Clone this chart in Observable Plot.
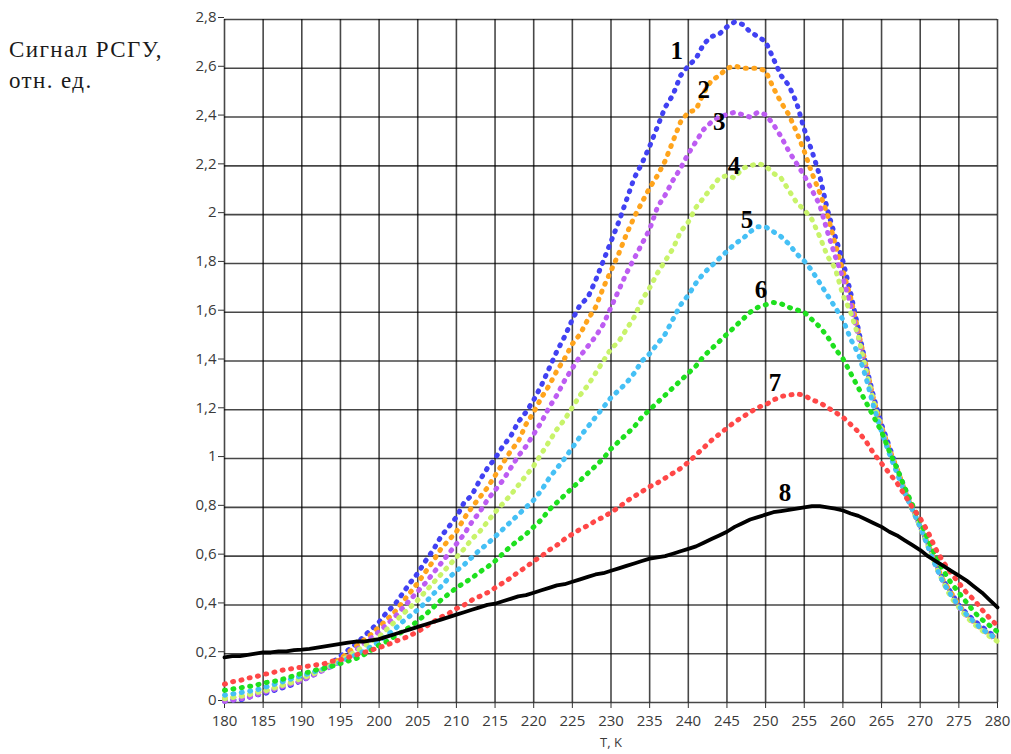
<!DOCTYPE html>
<html>
<head>
<meta charset="utf-8">
<script src="https://cdn.jsdelivr.net/npm/d3@7"></script>
<script src="https://cdn.jsdelivr.net/npm/@observablehq/plot@0.6"></script>
<style>
  html, body { margin: 0; padding: 0; background: #fff; }
  #wrap { position: relative; width: 1011px; height: 754px; }
  #ylabel { position: absolute; left: 9px; top: 34px; font-family: "Liberation Serif", "Times New Roman", serif;
            font-size: 23px; line-height: 31px; color: #1a1a1a; white-space: pre; letter-spacing: 1.4px; }
</style>
</head>
<body>
<div id="wrap"><div id="chart"></div><div id="ylabel"></div></div>
<script>
// Temperature, K
const T = [180,181,182,183,184,185,186,187,188,189,190,191,192,193,194,195,196,197,198,199,
200,201,202,203,204,205,206,207,208,209,210,211,212,213,214,215,216,217,218,219,
220,221,222,223,224,225,226,227,228,229,230,231,232,233,234,235,236,237,238,239,
240,241,242,243,244,245,246,247,248,249,250,251,252,253,254,255,256,257,258,259,
260,261,262,263,264,265,266,267,268,269,270,271,272,273,274,275,276,277,278,279,280];

const s1 = [0.005,0.01,0.01,0.02,0.03,0.035,0.045,0.055,0.065,0.075,0.09,0.105,0.12,0.14,0.165,0.19,0.215,0.24,0.27,0.30,
0.33,0.37,0.40,0.445,0.49,0.53,0.58,0.625,0.68,0.72,0.76,0.82,0.85,0.91,0.96,1.00,1.05,1.09,1.15,1.19,
1.24,1.30,1.37,1.44,1.50,1.57,1.63,1.66,1.73,1.81,1.89,1.97,2.06,2.15,2.21,2.28,2.36,2.44,2.49,2.57,
2.61,2.64,2.70,2.73,2.74,2.77,2.79,2.78,2.75,2.73,2.71,2.64,2.57,2.53,2.46,2.35,2.26,2.16,2.02,1.91,
1.81,1.68,1.53,1.38,1.25,1.14,1.05,0.96,0.88,0.80,0.72,0.65,0.57,0.50,0.45,0.40,0.365,0.335,0.31,0.285,0.265];

const s2 = [0.015,0.02,0.025,0.03,0.04,0.045,0.055,0.065,0.075,0.085,0.095,0.11,0.125,0.14,0.16,0.18,0.205,0.23,0.255,0.28,
0.31,0.34,0.37,0.41,0.45,0.49,0.535,0.58,0.63,0.665,0.70,0.755,0.80,0.84,0.88,0.93,0.98,1.03,1.07,1.14,
1.19,1.25,1.30,1.36,1.41,1.47,1.51,1.57,1.62,1.70,1.77,1.84,1.92,1.99,2.05,2.11,2.16,2.22,2.30,2.38,
2.42,2.43,2.50,2.55,2.57,2.60,2.61,2.60,2.60,2.60,2.59,2.52,2.46,2.41,2.34,2.26,2.17,2.09,2.00,1.88,
1.77,1.66,1.52,1.38,1.24,1.13,1.04,0.96,0.87,0.79,0.72,0.65,0.57,0.50,0.45,0.40,0.36,0.33,0.30,0.28,0.26];

const s3 = [0.005,0.01,0.015,0.02,0.03,0.04,0.05,0.06,0.07,0.08,0.09,0.105,0.12,0.135,0.15,0.17,0.19,0.215,0.24,0.265,
0.29,0.32,0.35,0.385,0.42,0.455,0.49,0.53,0.57,0.61,0.65,0.69,0.74,0.78,0.83,0.87,0.91,0.96,1.01,1.05,
1.10,1.15,1.21,1.26,1.32,1.37,1.42,1.46,1.50,1.55,1.62,1.69,1.76,1.82,1.88,1.94,2.03,2.08,2.14,2.19,
2.25,2.30,2.35,2.38,2.40,2.41,2.42,2.41,2.40,2.42,2.41,2.37,2.32,2.26,2.21,2.16,2.10,2.04,1.93,1.83,
1.74,1.63,1.50,1.36,1.22,1.12,1.03,0.95,0.86,0.79,0.72,0.64,0.56,0.49,0.44,0.39,0.355,0.325,0.30,0.275,0.255];

const s4 = [0.015,0.02,0.025,0.03,0.04,0.045,0.055,0.065,0.075,0.085,0.10,0.11,0.125,0.14,0.155,0.17,0.19,0.21,0.23,0.25,
0.27,0.30,0.33,0.36,0.39,0.42,0.455,0.49,0.525,0.56,0.595,0.63,0.67,0.70,0.74,0.78,0.815,0.85,0.89,0.93,
0.97,1.02,1.07,1.12,1.16,1.21,1.26,1.30,1.35,1.40,1.45,1.48,1.53,1.58,1.65,1.70,1.76,1.81,1.86,1.93,
1.97,2.03,2.07,2.11,2.15,2.16,2.15,2.19,2.20,2.21,2.20,2.17,2.15,2.10,2.05,2.02,1.98,1.91,1.83,1.78,
1.67,1.60,1.50,1.36,1.23,1.12,1.03,0.95,0.86,0.79,0.72,0.64,0.56,0.49,0.43,0.39,0.35,0.32,0.295,0.27,0.25];

const s5 = [0.03,0.035,0.04,0.045,0.05,0.06,0.07,0.08,0.09,0.10,0.11,0.12,0.13,0.14,0.15,0.165,0.18,0.195,0.21,0.23,
0.25,0.275,0.30,0.33,0.355,0.38,0.41,0.445,0.475,0.51,0.54,0.565,0.595,0.625,0.65,0.68,0.71,0.74,0.77,0.80,
0.83,0.87,0.92,0.96,1.00,1.045,1.09,1.13,1.17,1.21,1.25,1.28,1.31,1.35,1.40,1.43,1.47,1.51,1.57,1.63,
1.67,1.72,1.76,1.79,1.82,1.85,1.88,1.90,1.93,1.95,1.95,1.93,1.91,1.88,1.84,1.81,1.77,1.72,1.67,1.62,
1.57,1.49,1.43,1.33,1.21,1.11,1.02,0.94,0.86,0.79,0.72,0.64,0.56,0.49,0.44,0.395,0.36,0.33,0.30,0.28,0.26];

const s6 = [0.05,0.055,0.06,0.065,0.07,0.08,0.085,0.09,0.10,0.11,0.12,0.125,0.135,0.14,0.15,0.16,0.17,0.18,0.195,0.215,
0.235,0.25,0.27,0.29,0.31,0.335,0.36,0.39,0.42,0.445,0.47,0.49,0.51,0.535,0.555,0.58,0.61,0.64,0.665,0.69,
0.72,0.75,0.79,0.82,0.85,0.88,0.91,0.94,0.97,1.00,1.04,1.07,1.10,1.13,1.17,1.20,1.23,1.26,1.29,1.32,
1.35,1.38,1.42,1.45,1.48,1.51,1.54,1.57,1.60,1.62,1.63,1.64,1.635,1.62,1.61,1.60,1.57,1.54,1.50,1.45,
1.41,1.35,1.29,1.23,1.17,1.11,1.03,0.96,0.88,0.81,0.745,0.67,0.60,0.54,0.49,0.45,0.41,0.37,0.34,0.315,0.29];

const s7 = [0.075,0.085,0.09,0.10,0.105,0.115,0.12,0.13,0.135,0.14,0.145,0.15,0.155,0.16,0.17,0.175,0.185,0.195,0.205,0.215,
0.225,0.235,0.25,0.26,0.275,0.29,0.31,0.33,0.35,0.365,0.385,0.40,0.42,0.435,0.45,0.47,0.49,0.51,0.535,0.555,
0.58,0.60,0.625,0.645,0.67,0.69,0.71,0.725,0.745,0.76,0.78,0.80,0.825,0.845,0.865,0.885,0.90,0.92,0.94,0.96,
0.985,1.015,1.045,1.075,1.10,1.125,1.15,1.17,1.19,1.21,1.22,1.24,1.255,1.26,1.265,1.26,1.24,1.23,1.21,1.19,
1.17,1.14,1.11,1.07,1.02,0.98,0.94,0.90,0.85,0.80,0.755,0.70,0.63,0.575,0.53,0.49,0.45,0.42,0.38,0.345,0.315];

const s8 = [0.185,0.19,0.19,0.195,0.20,0.205,0.205,0.21,0.21,0.215,0.217,0.22,0.225,0.23,0.235,0.24,0.245,0.25,0.25,0.255,
0.26,0.27,0.28,0.29,0.30,0.31,0.32,0.33,0.34,0.35,0.36,0.37,0.38,0.39,0.40,0.405,0.415,0.425,0.435,0.44,
0.45,0.46,0.47,0.48,0.485,0.495,0.505,0.515,0.525,0.53,0.54,0.55,0.56,0.57,0.58,0.59,0.595,0.60,0.61,0.62,
0.63,0.64,0.655,0.67,0.685,0.70,0.72,0.735,0.75,0.76,0.77,0.78,0.785,0.79,0.795,0.80,0.805,0.805,0.80,0.795,
0.787,0.775,0.765,0.75,0.735,0.72,0.70,0.685,0.665,0.645,0.625,0.60,0.58,0.56,0.54,0.52,0.50,0.475,0.45,0.42,0.39];

const seriesNames = ["1","2","3","4","5","6","7","8"];
const seriesValues = [s1, s2, s3, s4, s5, s6, s7, s8];
const seriesColors = ["#4141f2","#ffa41c","#bd5cf2","#c8f36a","#45c0f5","#1ee01e","#ff4747","#000000"];

// curve label anchors
const labelT = [238.5, 242.0, 244.0, 245.9, 247.6, 249.4, 251.2, 252.5];
const labelV = [2.67, 2.51, 2.38, 2.20, 1.98, 1.69, 1.31, 0.86];

const xTicks = [180,185,190,195,200,205,210,215,220,225,230,235,240,245,250,255,260,265,270,275,280];
const yTicks = [0,0.2,0.4,0.6,0.8,1,1.2,1.4,1.6,1.8,2,2.2,2.4,2.6,2.8];
const xLabel = "T, K";
const yLabel = "Сигнал РСГУ,\nотн. ед.";

const fmt = d => String(+d.toFixed(1)).replace(".", ",");

const lineMarks = seriesValues.map((vals, i) => {
  const rows = T.map((t, k) => ({t, v: vals[k]}));
  if (i === 7) {
    return Plot.line(rows, {x: "t", y: "v", stroke: seriesColors[i], strokeWidth: 3.8, strokeLinejoin: "round"});
  }
  return Plot.line(rows, {x: "t", y: "v", stroke: seriesColors[i], strokeWidth: 5,
    strokeDasharray: "1 7.5", strokeLinecap: "round", strokeLinejoin: "round"});
});

const labels = seriesNames.map((n, i) => ({n, t: labelT[i], v: labelV[i]}));

const chart = Plot.plot({
  width: 1011,
  height: 754,
  marginLeft: 224,
  marginRight: 14,
  marginTop: 19,
  marginBottom: 52,
  x: {domain: [180, 280]},
  y: {domain: [0, 2.8]},
  style: {fontFamily: "'Open Sans', sans-serif", fontSize: "15px", color: "#3a3a3a", background: "#fff"},
  marks: [
    Plot.gridX(xTicks, {stroke: "#000", strokeOpacity: 0.72, strokeWidth: 1.6}),
    Plot.gridY(yTicks, {stroke: "#000", strokeOpacity: 0.72, strokeWidth: 1.6}),
    Plot.axisX(xTicks, {tickSize: 6, tickPadding: 7, label: null, tickFormat: d => String(d), stroke: "#333", fontSize: 15}),
    Plot.axisY(yTicks, {tickSize: 6, tickPadding: 2, label: null, tickFormat: fmt, stroke: "#333", fontSize: 15, dy: -2}),
    ...lineMarks,
    Plot.text(labels, {x: "t", y: "v", text: "n", fontFamily: "'Liberation Serif', serif", fontWeight: "bold", fontSize: 25, fill: "#000"}),
    Plot.text([xLabel], {frameAnchor: "bottom", dy: 44, fontSize: 13, fill: "#3a3a3a"})
  ]
});
document.getElementById("chart").appendChild(chart);
document.getElementById("ylabel").textContent = yLabel;
</script>
</body>
</html>
